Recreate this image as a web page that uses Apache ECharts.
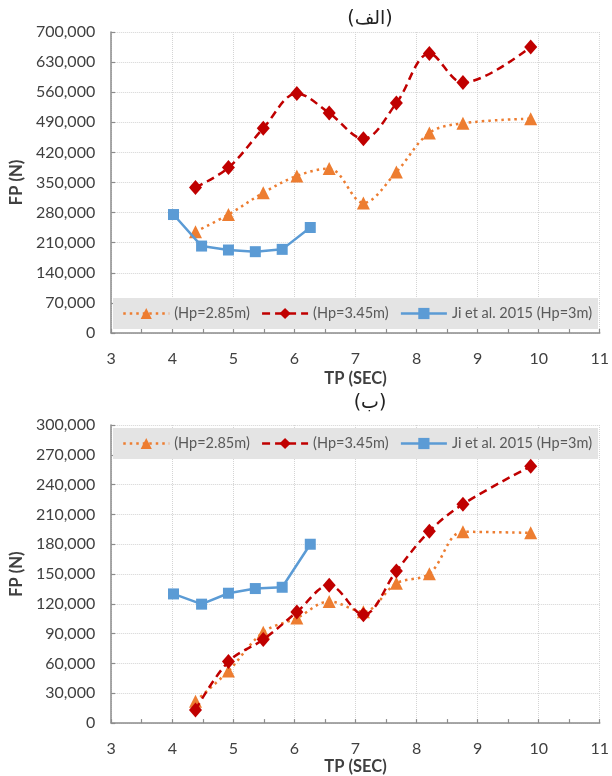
<!DOCTYPE html>
<html>
<head>
<meta charset="utf-8">
<script src="https://cdn.jsdelivr.net/npm/echarts@6/dist/echarts.min.js"></script>
<style>html,body{margin:0;padding:0;background:#fff}#c{width:612px;height:776px}</style>
</head>
<body>
<div id="c"></div>
<script>
// ---- data ----
var titles = ['(الف)', '(ب)'];
var seriesNames = ['(Hp=2.85m)', '(Hp=3.45m)', 'Ji et al. 2015 (Hp=3m)'];
var tpModel = [4.38, 4.92, 5.49, 6.04, 6.57, 7.13, 7.67, 8.21, 8.76, 9.87];
var tpJi = [4.02, 4.48, 4.92, 5.36, 5.80, 6.26];
// chart (الف)
var topHp285 = [235400, 275500, 326000, 365400, 382300, 302500, 374600, 465400, 487700, 498500];
var topHp345 = [338500, 384600, 476000, 557000, 511500, 451500, 534600, 650000, 582300, 665400];
var topJi = [275500, 202200, 193000, 189100, 194500, 245400];
// chart (ب)
var botHp285 = [22000, 52500, 91500, 105800, 122400, 112000, 140700, 150400, 192500, 191500];
var botHp345 = [13300, 61900, 84100, 111800, 138700, 109100, 153000, 193100, 220300, 258500];
var botJi = [130000, 119700, 130700, 135400, 136700, 180000];
var xAxisName = 'TP (SEC)';
var yAxisName = 'FP (N)';
var xMin = 3, xMax = 11, xStep = 1;
var topYMax = 700000, topYStep = 70000;
var botYMax = 300000, botYStep = 30000;

function pairs(xs, ys) { return xs.map(function (x, i) { return [x, ys[i]]; }); }

var FONT = 'Lato';
var axisCol = '#8c8c8c';
var textCol = '#404040';

function xAxis(gi, nameGap) {
  return {
    type: 'value', gridIndex: gi, min: xMin, max: xMax, interval: xStep,
    name: xAxisName, nameLocation: 'middle', nameGap: nameGap,
    nameTextStyle: { fontFamily: FONT, fontWeight: 'bold', fontSize: 16.5, color: textCol },
    axisLine: { show: true, lineStyle: { color: axisCol, width: 1.5 } },
    axisTick: { show: true, inside: true, length: 4, lineStyle: { color: axisCol, width: 1.2 } },
    minorTick: { show: true, splitNumber: 2, length: 4, lineStyle: { color: axisCol, width: 1.2 } },
    axisLabel: { fontFamily: FONT, fontSize: 16, color: textCol, margin: 18 },
    splitLine: { show: true, lineStyle: { color: '#d4d4d4', type: 'dotted', width: 1 } }
  };
}
function yAxis(gi, max, step) {
  return {
    type: 'value', gridIndex: gi, min: 0, max: max, interval: step,
    name: yAxisName, nameLocation: 'middle', nameGap: 83,
    nameTextStyle: { fontFamily: FONT, fontWeight: 'bold', fontSize: 16.5, color: textCol },
    axisLine: { show: true, lineStyle: { color: axisCol, width: 1.5 } },
    axisTick: { show: true, inside: true, length: 4, lineStyle: { color: axisCol, width: 1.2 } },
    axisLabel: { fontFamily: FONT, fontSize: 16, color: textCol, margin: 16,
      formatter: function (v) { return v.toLocaleString('en-US'); } },
    splitLine: { show: true, lineStyle: { color: '#d4d4d4', type: 'dotted', width: 1 } }
  };
}
var colors = ['#ED7D31', '#C00000', '#5B9BD5'];
function mkSeries(gi, d285, d345, dJi) {
  return [
    { name: seriesNames[0], type: 'line', xAxisIndex: gi, yAxisIndex: gi, data: pairs(tpModel, d285),
      smooth: 0.35, symbol: 'triangle', symbolSize: 13, z: 3,
      lineStyle: { color: colors[0], width: 2.5, type: [2.5, 4] }, itemStyle: { color: colors[0] } },
    { name: seriesNames[1], type: 'line', xAxisIndex: gi, yAxisIndex: gi, data: pairs(tpModel, d345),
      smooth: 0.35, symbol: 'diamond', symbolSize: [13, 15], z: 4,
      lineStyle: { color: colors[1], width: 2.5, type: [8, 5] }, itemStyle: { color: colors[1] } },
    { name: seriesNames[2], type: 'line', xAxisIndex: gi, yAxisIndex: gi, data: pairs(tpJi, dJi),
      smooth: false, symbol: 'rect', symbolSize: 11, z: 5,
      lineStyle: { color: colors[2], width: 2.5 }, itemStyle: { color: colors[2] } }
  ];
}
function legend(top) {
  return {
    data: seriesNames, left: 113, top: top, orient: 'horizontal',
    itemWidth: 46, itemHeight: 14, itemGap: 11,
    backgroundColor: '#e4e4e4', padding: [8, 6, 8, 9], borderRadius: 0,
    lineStyle: { width: 2.5 },
    textStyle: { fontFamily: FONT, fontSize: 14.5, color: '#595959' }
  };
}

var chart = echarts.init(document.getElementById('c'), null, { renderer: 'canvas' });
chart.setOption({
  animation: false,
  backgroundColor: '#ffffff',
  title: [
    { text: titles[0], left: 365, top: 5, textAlign: 'center',
      textStyle: { fontFamily: 'DejaVu Sans', fontWeight: 'normal', fontSize: 19, color: '#222' } },
    { text: titles[1], left: 365, top: 389, textAlign: 'center',
      textStyle: { fontFamily: 'DejaVu Sans', fontWeight: 'normal', fontSize: 19, color: '#222' } }
  ],
  legend: [legend(298), legend(428)],
  grid: [
    { left: 107, right: 9, top: 32, height: 301 },
    { left: 107, right: 9, top: 425, height: 303 }
  ],
  xAxis: [xAxis(0, 37), xAxis(1, 31)],
  yAxis: [yAxis(0, topYMax, topYStep), yAxis(1, botYMax, botYStep)],
  series: mkSeries(0, topHp285, topHp345, topJi).concat(mkSeries(1, botHp285, botHp345, botJi))
});
</script>
</body>
</html>
